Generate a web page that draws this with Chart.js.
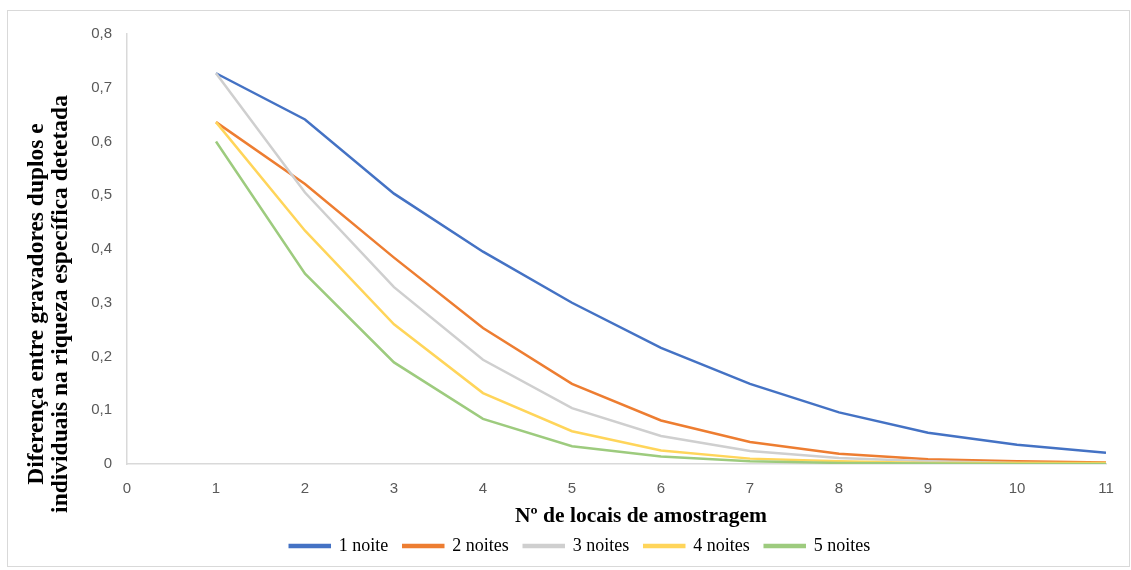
<!DOCTYPE html>
<html>
<head>
<meta charset="utf-8">
<script src="https://cdn.jsdelivr.net/npm/chart.js@4"></script>
<style>
  body { margin: 0; background: #fff; }
  #wrap { position: relative; width: 1131px; height: 570px; }
</style>
</head>
<body>
<div id="wrap"><canvas id="mycanvas" width="1131" height="570"></canvas></div>
<script>
// numero de locais de amostragem
var locais = [1, 2, 3, 4, 5, 6, 7, 8, 9, 10, 11];
var noite1 = [0.727, 0.641, 0.503, 0.395, 0.300, 0.216, 0.149, 0.096, 0.058, 0.036, 0.021];
var noite2 = [0.636, 0.521, 0.384, 0.253, 0.149, 0.081, 0.041, 0.019, 0.009, 0.005, 0.003];
var noite3 = [0.727, 0.505, 0.329, 0.194, 0.104, 0.052, 0.024, 0.011, 0.005, 0.002, 0.001];
var noite4 = [0.636, 0.434, 0.260, 0.132, 0.061, 0.025, 0.010, 0.005, 0.002, 0.002, 0.002];
var noite5 = [0.600, 0.354, 0.189, 0.084, 0.033, 0.014, 0.005, 0.002, 0.001, 0.000, 0.000];
var nomes = ["1 noite", "2 noites", "3 noites", "4 noites", "5 noites"];
var cores = ["#4472C4", "#ED7D31", "#CFCFCF", "#FFD55A", "#9DCB7E"];

function pontos(vals) {
  var out = [];
  for (var i in vals) {
    out.push({x: locais[i], y: vals[i]});
  }
  return out;
}

var series = [noite1, noite2, noite3, noite4, noite5];
var datasets = [];
for (var k = 0; k < series.length; k++) {
  datasets.push({
    label: nomes[k],
    data: pontos(series[k]),
    borderColor: cores[k],
    backgroundColor: cores[k],
    borderWidth: 2.5,
    pointRadius: 0,
    tension: 0,
    fill: false
  });
}
// excel draws the last series on top
datasets.reverse();

var titulos = {
  id: 'titulos',
  beforeDraw: function(chart) {
    var ctx = chart.ctx;
    ctx.save();
    ctx.strokeStyle = '#d9d9d9';
    ctx.lineWidth = 1;
    ctx.strokeRect(7.5, 10.5, 1122, 556);
    ctx.restore();
  },
  afterDraw: function(chart) {
    var ctx = chart.ctx;
    ctx.save();
    ctx.fillStyle = '#000';
    ctx.font = 'bold 21.5px "Liberation Serif"';
    ctx.textAlign = 'center';
    ctx.textBaseline = 'middle';
    ctx.fillText('Nº de locais de amostragem', 641, 516);
    ctx.font = 'bold 23.5px "Liberation Serif"';
    ctx.translate(37, 304);
    ctx.rotate(-Math.PI / 2);
    ctx.fillText('Diferença entre gravadores duplos e', 0, 0);
    ctx.fillText('individuais na riqueza específica detetada', 0, 24);
    ctx.restore();
  }
};

var ctx = document.getElementById('mycanvas');
var LineGraph = new Chart(ctx, {
  type: 'line',
  data: { datasets: datasets },
  plugins: [titulos],
  options: {
    responsive: false,
    animation: false,
    layout: { padding: { left: 54, right: 25, top: 34, bottom: 5 } },
    plugins: {
      tooltip: { enabled: false },
      legend: {
        position: 'bottom',
        reverse: true,
        labels: {
          boxWidth: 40,
          boxHeight: 2,
          padding: 15,
          color: '#000',
          font: { family: '"Liberation Serif"', size: 18 }
        }
      }
    },
    scales: {
      x: {
        type: 'linear',
        min: 0,
        max: 11,
        afterFit: function(s) { s.height = 58; },
        grid: { display: false },
        border: { display: true, color: '#d9d9d9', width: 1.5 },
        ticks: {
          stepSize: 1,
          padding: 8,
          color: '#595959',
          font: { family: '"Liberation Sans"', size: 15 }
        }
      },
      y: {
        min: 0,
        max: 0.8,
        afterFit: function(s) { s.width = 73; },
        grid: { display: false },
        border: { display: true, color: '#d9d9d9', width: 1.5 },
        ticks: {
          stepSize: 0.1,
          padding: 7,
          color: '#595959',
          font: { family: '"Liberation Sans"', size: 15 },
          callback: function(v) { return v === 0 ? '0' : v.toFixed(1).replace('.', ','); }
        }
      }
    }
  }
});
</script>
</body>
</html>
